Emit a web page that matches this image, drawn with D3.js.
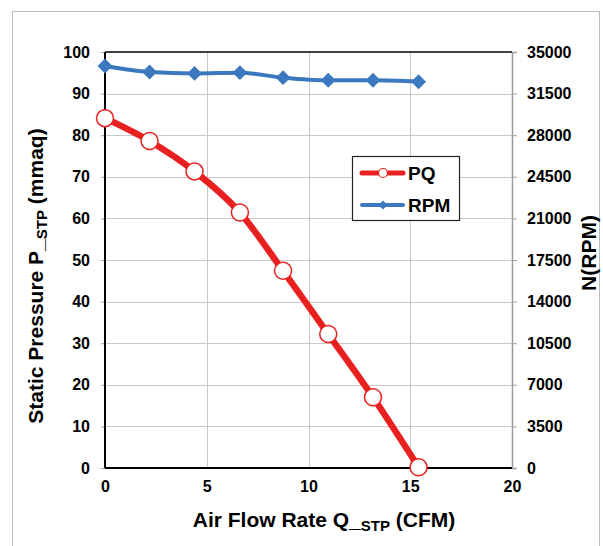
<!DOCTYPE html>
<html>
<head>
<meta charset="utf-8">
<script src="https://cdn.jsdelivr.net/npm/d3@7"></script>
<style>
  html, body { margin: 0; padding: 0; background: #fff; }
  svg { display: block; font-family: "Liberation Sans", Arial, sans-serif; font-weight: bold; }
</style>
</head>
<body>
<div id="chart"></div>
<script>
// flow rate (CFM) shared by both series
const flow = [0, 2.19, 4.4, 6.63, 8.75, 10.97, 13.17, 15.41];
const pressure = [84.1, 78.6, 71.3, 61.4, 47.4, 32.2, 17.0, 0.2];
const rpm = [33820, 33320, 33200, 33260, 32840, 32620, 32620, 32500];

const xTicks = [0, 5, 10, 15, 20];
const yTicks = [0, 10, 20, 30, 40, 50, 60, 70, 80, 90, 100];
const rTicks = [0, 3500, 7000, 10500, 14000, 17500, 21000, 24500, 28000, 31500, 35000];

const W = 603, Ht = 546;
const m = { t: 52, r: 91, b: 78, l: 105 };
const RED = "#e8201f", BLUE = "#3b78c0";

const svg = d3.select("#chart").append("svg").attr("width", W).attr("height", Ht);

// outer chart frame
svg.append("rect").attr("x", 12.5).attr("y", 11.5).attr("width", 587).attr("height", 560)
  .attr("fill", "none").attr("stroke", "#bdbdbd").attr("stroke-width", 1);

const x = d3.scaleLinear().domain([0, 20]).range([m.l, W - m.r]);
const y = d3.scaleLinear().domain([0, 100]).range([Ht - m.b, m.t]);
const yR = d3.scaleLinear().domain([0, 35000]).range([Ht - m.b, m.t]);

// grid
svg.append("g").selectAll("line").data(yTicks.slice(1, -1)).join("line")
  .attr("x1", m.l).attr("x2", W - m.r)
  .attr("y1", d => Math.round(y(d)) + 0.5).attr("y2", d => Math.round(y(d)) + 0.5)
  .attr("stroke", "#c8c8c8");
svg.append("g").selectAll("line").data(xTicks.slice(1, -1)).join("line")
  .attr("y1", m.t).attr("y2", Ht - m.b)
  .attr("x1", d => Math.round(x(d)) + 0.5).attr("x2", d => Math.round(x(d)) + 0.5)
  .attr("stroke", "#c8c8c8");

// axes
const left = svg.append("g").attr("transform", `translate(${m.l},0)`)
  .call(d3.axisLeft(y).tickValues(yTicks).tickSize(4).tickPadding(11));
const right = svg.append("g").attr("transform", `translate(${W - m.r},0)`)
  .call(d3.axisRight(yR).tickValues(rTicks).tickSize(5).tickPadding(10).tickFormat(d3.format("d")));
const bottom = svg.append("g").attr("transform", `translate(0,${Ht - m.b})`)
  .call(d3.axisBottom(x).tickValues(xTicks).tickSize(0).tickPadding(13));

[left, right, bottom].forEach(g => {
  g.selectAll("text").attr("font-size", 16).attr("font-weight", "bold")
    .attr("font-family", "Liberation Sans, Arial, sans-serif").attr("fill", "#000");
  g.selectAll(".tick line").attr("stroke", "#a0a0a0");
});
left.select(".domain").remove();
right.select(".domain").attr("stroke", "#9a9a9a").attr("stroke-width", 1.5);
bottom.select(".domain").remove();

// plot frame lines
svg.append("line").attr("x1", m.l).attr("x2", W - m.r).attr("y1", m.t).attr("y2", m.t)
  .attr("stroke", "#000").attr("stroke-width", 1.5);
svg.append("line").attr("x1", m.l).attr("x2", W - m.r).attr("y1", Ht - m.b).attr("y2", Ht - m.b)
  .attr("stroke", "#000").attr("stroke-width", 2);
svg.append("line").attr("x1", m.l).attr("x2", m.l).attr("y1", m.t).attr("y2", Ht - m.b)
  .attr("stroke", "#000").attr("stroke-width", 2);

// RPM series
const rpmLine = d3.line().x((d, i) => x(flow[i])).y(d => yR(d)).curve(d3.curveMonotoneX);
svg.append("path").datum(rpm).attr("d", rpmLine)
  .attr("fill", "none").attr("stroke", BLUE).attr("stroke-width", 4);
svg.append("g").selectAll("path").data(rpm).join("path")
  .attr("d", d3.symbol(d3.symbolSquare, 110))
  .attr("transform", (d, i) => `translate(${x(flow[i])},${yR(d)}) rotate(45)`)
  .attr("fill", BLUE);

// PQ series
const pqLine = d3.line().x((d, i) => x(flow[i])).y(d => y(d)).curve(d3.curveMonotoneX);
svg.append("path").datum(pressure).attr("d", pqLine)
  .attr("fill", "none").attr("stroke", RED).attr("stroke-width", 6.5);
svg.append("g").selectAll("circle").data(pressure).join("circle")
  .attr("cx", (d, i) => x(flow[i])).attr("cy", d => y(d)).attr("r", 8.5)
  .attr("fill", "#fff").attr("stroke", RED).attr("stroke-width", 1.5);

// legend
const lg = svg.append("g");
lg.append("rect").attr("x", 352.5).attr("y", 156.5).attr("width", 107).attr("height", 64)
  .attr("fill", "#fff").attr("stroke", "#222").attr("stroke-width", 1.2);
lg.append("line").attr("x1", 362).attr("x2", 403).attr("y1", 173).attr("y2", 173)
  .attr("stroke", RED).attr("stroke-width", 5).attr("stroke-linecap", "round");
lg.append("circle").attr("cx", 383).attr("cy", 173).attr("r", 4.5)
  .attr("fill", "#fff").attr("stroke", RED).attr("stroke-width", 1.2);
lg.append("text").attr("x", 408).attr("y", 180).attr("font-size", 19).text("PQ");
lg.append("line").attr("x1", 362).attr("x2", 403).attr("y1", 205).attr("y2", 205)
  .attr("stroke", BLUE).attr("stroke-width", 4).attr("stroke-linecap", "round");
lg.append("path").attr("d", d3.symbol(d3.symbolSquare, 40))
  .attr("transform", "translate(383,205) rotate(45)").attr("fill", BLUE);
lg.append("text").attr("x", 408).attr("y", 212).attr("font-size", 19).text("RPM");

// axis titles
const xt = svg.append("text").attr("x", 324).attr("y", 527).attr("text-anchor", "middle")
  .attr("font-size", 21);
xt.append("tspan").text("Air Flow Rate Q_");
xt.append("tspan").attr("font-size", 15).attr("dy", 4).text("STP");
xt.append("tspan").attr("dy", -4).text(" (CFM)");

const yt = svg.append("text").attr("transform", "translate(43,276) rotate(-90)")
  .attr("text-anchor", "middle").attr("font-size", 21);
yt.append("tspan").text("Static Pressure P_");
yt.append("tspan").attr("font-size", 15).attr("dy", 4).text("STP");
yt.append("tspan").attr("dy", -4).text(" (mmaq)");

svg.append("text").attr("transform", "translate(596,253) rotate(-90)")
  .attr("text-anchor", "middle").attr("font-size", 21).text("N(RPM)");
</script>
</body>
</html>
